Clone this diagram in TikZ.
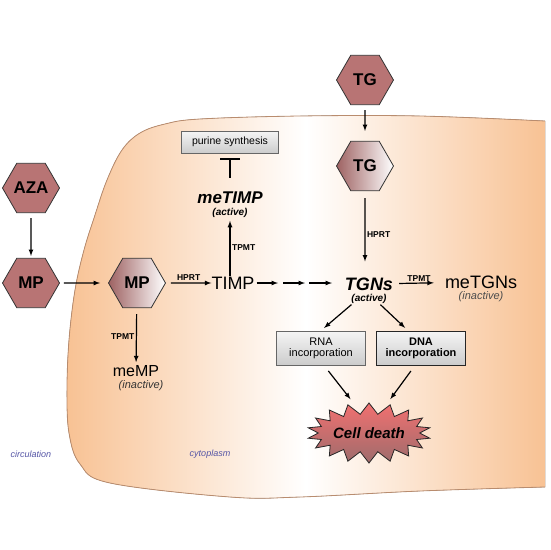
\documentclass[tikz,border=0pt]{standalone}
\usepackage{fontspec}
\setmainfont{Liberation Sans}
\usetikzlibrary{arrows,arrows.meta,positioning,shapes.geometric,shapes.symbols}

\definecolor{hexfill}{RGB}{184,116,116}
\definecolor{hexdark}{RGB}{158,98,98}
\definecolor{cellfill}{RGB}{248,194,148}
\definecolor{cellline}{RGB}{185,140,110}
\definecolor{deathtop}{RGB}{242,112,112}
\definecolor{deathbot}{RGB}{158,108,108}
\definecolor{regionblue}{RGB}{85,85,165}
\newcommand{\fsz}[1]{\fontsize{#1}{#1}\selectfont}

\begin{document}
\begin{tikzpicture}[x=1pt,y=-1pt]
\tikzstyle{hexa}=[regular polygon,regular polygon sides=6,draw=black!80,line width=0.8pt,minimum size=57pt,inner sep=0pt,font=\fsz{17}\bfseries]
\tikzstyle{outside}=[hexa,fill=hexfill]
\tikzstyle{inside}=[hexa,left color=hexdark,right color=white]
\tikzstyle{drug}=[inner sep=0pt,font=\fsz{18}]
\tikzstyle{note}=[inner sep=0pt,font=\fsz{11}\itshape]
\tikzstyle{enz}=[inner sep=1.5pt,font=\fsz{8.5}\bfseries]
\tikzstyle{box}=[rectangle,draw=black!60,line width=0.8pt,top color=gray!8,bottom color=gray!40,minimum width=89pt,minimum height=34pt,inner sep=1pt,align=center,font=\fsz{11}]
\tikzstyle{arr}=[-latex,line width=1.2pt]
\tikzstyle{region}=[font=\fsz{9}\itshape,text=regionblue]

\useasboundingbox (0,0) rectangle (550,550);

% cell
\fill[left color=cellfill,right color=cellfill,middle color=white] plot[smooth,tension=0.6] coordinates {(545,121) (420,116) (300,116) (200,119) (165,124) (140,133) (122,150) (107,180) (95,215) (84,250) (75,290) (69,340) (67,390) (69,433) (80,464) (110,483) (230,497) (300,497) (420,491) (545,487)} -- cycle;
\draw[cellline,line width=0.8pt] plot[smooth,tension=0.6] coordinates {(545,121) (420,116) (300,116) (200,119) (165,124) (140,133) (122,150) (107,180) (95,215) (84,250) (75,290) (69,340) (67,390) (69,433) (80,464) (110,483) (230,497) (300,497) (420,491) (545,487)};

\node[outside] (aza) at (31,188) {AZA};
\node[outside] (mpout) at (31,283) {MP};
\node[inside] (mpin) at (137,283) {MP};
\node[outside] (tgout) at (365,80) {TG};
\node[inside] (tgin) at (365,166) {TG};

\node[drug] (timp) at (233,283) {TIMP};
\node[drug,font=\fsz{17}\bfseries\itshape] (metimp) at (230,198) {meTIMP};
\node[note,font=\fsz{10}\bfseries\itshape] (metimpnote) [below=4pt of metimp] {(active)};
\node[box,minimum width=97pt,minimum height=22pt,font=\fsz{10.5}] (purine) at (230,142) {purine synthesis};
\node[drug,font=\fsz{18}\bfseries\itshape] (tgns) at (369,284) {TGNs};
\node[note,font=\fsz{10}\bfseries\itshape] (tgnsnote) [below=3pt of tgns] {(active)};
\node[drug] (metgns) at (481,282) {meTGNs};
\node[note,text=black!70] (metgnsnote) [below=3pt of metgns] {(inactive)};
\node[drug,font=\fsz{16}] (memp) at (136,371) {meMP};
\node[note,text=black!80] (mempnote) [below=3.5pt of memp,xshift=5pt] {(inactive)};
\node[box] (rna) at (321,348) {RNA\\incorporation};
\node[box,draw=black!85,font=\fsz{11}\bfseries] (dna) at (421,348) {DNA\\incorporation};
\node[starburst,starburst points=18,starburst point height=11pt,random starburst=0,draw=black!85,line width=0.8pt,top color=deathtop,bottom color=deathbot,minimum width=100pt,minimum height=60pt,inner sep=0pt,font=\fsz{15}\bfseries\itshape] (death) at (369,433) {Cell death};
\node[region] (circ) at (31,454) {circulation};
\node[region] (cyto) at (210,454) {cytoplasm};

\coordinate (k1) at (278,283);
\coordinate (k2) at (283,283);
\coordinate (k3) at (305,283);
\coordinate (k4) at (309,283);
\coordinate (k5) at (332,283);

\draw[arr,shorten <=5pt,shorten >=2pt] (aza) -- (mpout);
\draw[arr,shorten <=4pt,shorten >=8pt] (mpout) -- (mpin);
\draw[arr,shorten <=5pt] (mpin) -- node[enz,above] {HPRT} (timp);
\draw[arr,shorten <=6pt,shorten >=3pt] (mpin) -- node[enz,left] {TPMT} (memp);
\draw[arr,shorten <=1pt,shorten >=3pt] (timp.north -| metimpnote.south) -- node[enz,right] {TPMT} (metimpnote);
\draw[line width=1.1pt,-{Bar[width=20pt]},shorten <=14pt,shorten >=5pt] (metimp.north) -- (metimp.north |- purine.south);
\draw[arr,shorten <=2pt] (timp) -- (k1);
\draw[arr] (k2) -- (k3);
\draw[arr] (k4) -- (k5);
\draw[arr,shorten <=5pt,shorten >=10pt] (tgout) -- (tgin);
\draw[arr,shorten <=7pt,shorten >=16pt] (tgin) -- node[enz,right] {HPRT} (tgin |- tgns.north);
\draw[arr,shorten <=6pt,shorten >=11pt] (tgns) -- node[enz,above] {TPMT} (metgns);
\draw[arr,shorten <=2pt,shorten >=4pt] ([xshift=-16pt]tgnsnote.south) -- (rna.north);
\draw[arr,shorten <=2pt,shorten >=4pt] ([xshift=10pt]tgnsnote.south) -- ([xshift=-13pt]dna.north);
\draw[arr,shorten <=7pt,shorten >=4pt] ([xshift=3pt]rna.south) -- ([xshift=-16pt]death.north);
\draw[arr,shorten <=7pt,shorten >=4pt] ([xshift=-6pt]dna.south) -- ([xshift=19pt]death.north);
\end{tikzpicture}
\end{document}
